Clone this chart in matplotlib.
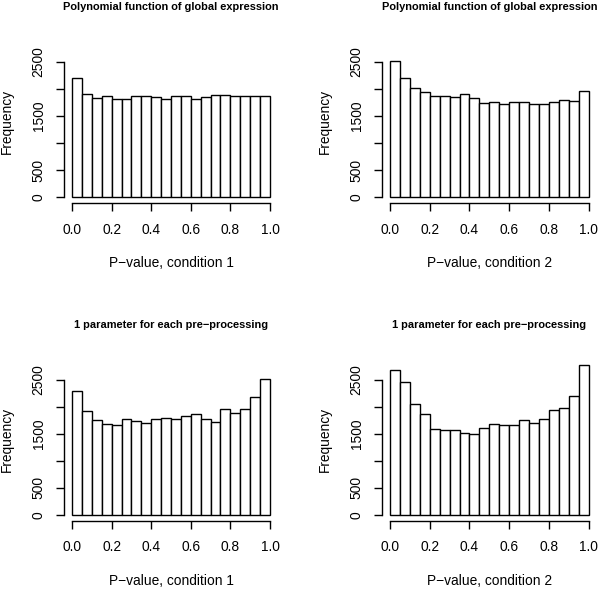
import matplotlib
matplotlib.use("Agg")
import matplotlib.pyplot as plt
import numpy as np

plt.rcParams['font.family'] = ['Liberation Sans', 'DejaVu Sans']

bin_edges = [round(0.05 * i, 2) for i in range(21)]

poly_cond1 = [2205, 1898, 1824, 1867, 1806, 1812, 1873, 1861, 1843, 1806,
              1867, 1867, 1806, 1849, 1879, 1885, 1867, 1873, 1861, 1861]
poly_cond2 = [2505, 2198, 2008, 1940, 1873, 1873, 1849, 1897, 1836, 1744,
              1750, 1719, 1756, 1762, 1725, 1725, 1756, 1800, 1768, 1953]
param_cond1 = [2297, 1927, 1749, 1687, 1669, 1767, 1743, 1706, 1767, 1786,
               1767, 1835, 1860, 1767, 1712, 1952, 1878, 1952, 2180, 2505]
param_cond2 = [2679, 2451, 2057, 1860, 1595, 1570, 1576, 1509, 1490, 1613,
               1675, 1656, 1669, 1749, 1706, 1767, 1940, 1983, 2198, 2771]

titles = ["Polynomial function of global expression",
          "Polynomial function of global expression",
          "1 parameter for each pre\u2212processing",
          "1 parameter for each pre\u2212processing"]
xlabels = ["P\u2212value, condition 1", "P\u2212value, condition 2",
           "P\u2212value, condition 1", "P\u2212value, condition 2"]
series = [poly_cond1, poly_cond2, param_cond1, param_cond2]

yticks = [0, 500, 1000, 1500, 2000, 2500]
yticklabels = ["0", "500", "", "1500", "", "2500"]
xticks = [0.0, 0.2, 0.4, 0.6, 0.8, 1.0]
xticklabels = ["0.0", "0.2", "0.4", "0.6", "0.8", "1.0"]

W, H = 600, 589
fig = plt.figure(figsize=(W / 100, H / 100), dpi=100)

# pixel boxes: left, right, top, bottom
boxes = [(64.1, 277.9, 39.4, 203.4), (382.1, 596.6, 39.4, 203.4),
         (64.1, 277.9, 357.2, 521.1), (382.1, 596.6, 357.2, 521.1)]

for (l, r, t, b), counts, title, xl in zip(boxes, series, titles, xlabels):
    ax = fig.add_axes([l / W, 1 - b / H, (r - l) / W, (b - t) / H])
    lefts = bin_edges[:-1]
    widths = [bin_edges[i + 1] - bin_edges[i] for i in range(20)]
    ax.bar(lefts, counts, width=widths, align='edge', color='white',
           edgecolor='black', linewidth=1.0)
    ax.set_xlim(-0.04, 1.04)
    ax.set_ylim(-112, 2912)
    for s in ['top', 'right']:
        ax.spines[s].set_visible(False)
    ax.spines['left'].set_bounds(0, 2500)
    ax.spines['bottom'].set_bounds(0, 1)
    ax.spines['left'].set_linewidth(1.0)
    ax.spines['bottom'].set_linewidth(1.0)
    ax.set_yticks(yticks)
    ax.set_yticklabels(yticklabels, rotation=90, va='center')
    ax.set_xticks(xticks)
    ax.set_xticklabels(xticklabels)
    ax.tick_params(axis='both', length=5.8, width=1.0, labelsize=9.9,
                   colors='black')
    ax.tick_params(axis='x', pad=8.0)
    ax.tick_params(axis='y', pad=7.5)
    ax.set_xlabel(xl, fontsize=9.9, labelpad=14)
    ax.set_ylabel("Frequency", fontsize=9.9, labelpad=13)
    ax.set_title(title, fontsize=7.9, fontweight='bold', pad=21)

fig.savefig("out.png", dpi=100)
